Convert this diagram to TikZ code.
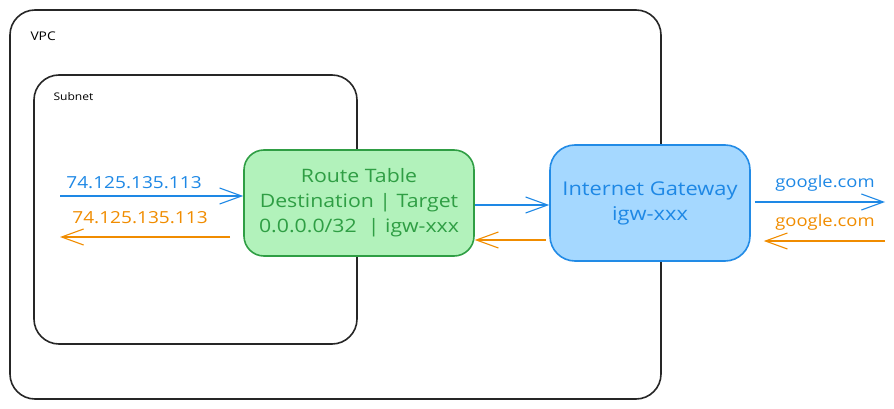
\documentclass[tikz,border=0pt]{standalone}
\usepackage{fontspec}
\setmainfont{Open Sans}[FakeStretch=1.15]
\usetikzlibrary{arrows.meta}
\definecolor{rtfill}{HTML}{B2F2BB}
\definecolor{rtline}{HTML}{2F9E44}
\definecolor{gwfill}{HTML}{A5D8FF}
\definecolor{gwline}{HTML}{228BE6}
\definecolor{outblue}{HTML}{1E88E5}
\definecolor{backorange}{HTML}{F08C00}

\begin{document}
\begin{tikzpicture}[x=1pt,y=-1pt,
    box/.style={draw=black!85,line width=1.6pt,rounded corners=25pt,inner sep=0pt},
    go/.style={draw=outblue,line width=1.1pt,-{Straight Barb[length=22pt,width=16pt,line width=1.1pt]}},
    back/.style={draw=backorange,line width=1.1pt,-{Straight Barb[length=22pt,width=16pt,line width=1.1pt]}},
    hop/.style={font=\fontsize{16.6}{18}\selectfont,inner sep=0pt}]
\useasboundingbox (0,0) rectangle (894,409);
                    \node[box,minimum width=651pt,minimum height=389pt](vpc) at (335.5,204.5){};
                    \node[anchor=west,font=\fontsize{12}{14}\selectfont](vpclabel) at (27,36){VPC};
                    \node[box,minimum width=323pt,minimum height=269pt](subnet) at (195.5,209.5){};
                    \node[anchor=west,font=\fontsize{10.5}{12}\selectfont](subnetlabel) at (50,97){Subnet};
                    \node[draw=rtline,fill=rtfill,line width=1.6pt,rounded corners=20pt,minimum width=230pt,minimum height=106pt,
                          text=rtline,align=center,font=\fontsize{18.5}{25}\selectfont](rt) at (359,203)
                          {Route Table\\Destination | Target\\0.0.0.0/32\ \ | igw-xxx};
                    \node[draw=gwline,fill=gwfill,line width=1.6pt,rounded corners=25pt,minimum width=200pt,minimum height=116pt,
                          text=outblue,align=center,font=\fontsize{19}{25}\selectfont](igw) at (650,203)
                          {Internet Gateway\\igw-xxx};
                    % traffic inside the subnet
                    \coordinate(ipin) at (60,196);
                    \coordinate(ipout) at (60,237);
                    \draw[go](ipin)--(ipin -| rt.west);
                    \draw[back]([xshift=-13pt]ipout -| rt.west)--(ipout);
                    \node[hop,text=outblue](iplabelin) at (134,183){74.125.135.113};
                    \node[hop,text=backorange](iplabelout) at (140,218){74.125.135.113};
                    % route table to gateway
                    \draw[go]([yshift=-2pt]rt.east)--([yshift=-2pt]rt.east -| igw.west);
                    \draw[back]([xshift=-3pt,yshift=-37pt]igw.west)--([yshift=-37pt]igw.west -| rt.east);
                    % gateway to the internet
                    \coordinate(web) at (885,202);
                    \coordinate(webback) at (885,241);
                    \draw[go]([xshift=4pt]igw.east |- web)--(web);
                    \draw[back](webback)--([xshift=13pt]webback -| igw.east);
                    \node[hop,text=outblue,font=\fontsize{16}{18}\selectfont](weblabelin) at (825,183){google.com};
                    \node[hop,text=backorange,font=\fontsize{16}{18}\selectfont](weblabelout) at (825,222){google.com};
                \end{tikzpicture}
\end{document}
